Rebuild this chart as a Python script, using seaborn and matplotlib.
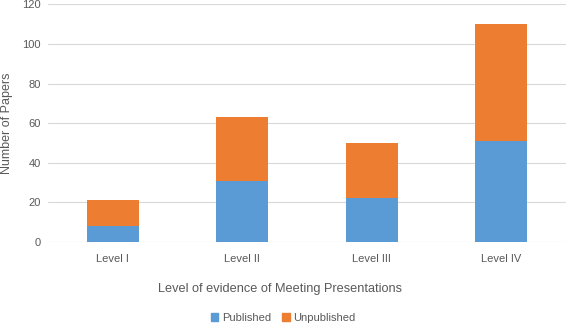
import pandas as pd
import seaborn as sns
import matplotlib.pyplot as plt
from matplotlib.patches import Patch

# data
levels = ["Level I", "Level II", "Level III", "Level IV"]
published = [8, 31, 22, 51]
unpublished = [13, 32, 28, 59]

blue = "#5B9BD5"
orange = "#ED7D31"
text_grey = "#595959"

df = pd.DataFrame({"level": levels, "published": published, "unpublished": unpublished})
df["total"] = df["published"] + df["unpublished"]

sns.set_style("white")
plt.rcParams["font.family"] = ["Liberation Sans", "DejaVu Sans"]

fig = plt.figure(figsize=(5.66, 3.25), dpi=100)
ax = fig.add_axes([48 / 566, 1 - 242 / 325, 1 - 48 / 566, (242 - 4.3) / 325])

# stacked bars: total in orange behind, published in blue on top
sns.barplot(data=df, x="level", y="total", color=orange, saturation=1, width=0.4,
            linewidth=0, ax=ax, zorder=3)
sns.barplot(data=df, x="level", y="published", color=blue, saturation=1, width=0.4,
            linewidth=0, ax=ax, zorder=4)

ax.set_ylim(0, 120)
ax.set_yticks(range(0, 121, 20))
ax.yaxis.grid(True, color="#D9D9D9", linewidth=0.8, zorder=0)
for s in ax.spines.values():
    s.set_visible(False)
ax.tick_params(axis="both", length=0, colors=text_grey, labelsize=8)
ax.tick_params(axis="x", pad=9)
ax.tick_params(axis="y", pad=5)

ax.set_xlabel("Level of evidence of Meeting Presentations", color=text_grey, fontsize=9.2)
ax.xaxis.set_label_coords((280 - 48) / 518, -41 / 237.7)
ax.set_ylabel("Number of Papers", color=text_grey, fontsize=9)
ax.yaxis.set_label_coords(-35 / 518, 0.5)

handles = [Patch(color=blue, label="Published"), Patch(color=orange, label="Unpublished")]
fig.legend(handles=handles, loc="center", bbox_to_anchor=(283 / 566, 1 - 318 / 325), ncol=2,
           frameon=False, fontsize=8, handlelength=0.7, handleheight=0.7, handletextpad=0.3,
           columnspacing=1.0, labelcolor=text_grey)

fig.savefig("out.png", dpi=100)
